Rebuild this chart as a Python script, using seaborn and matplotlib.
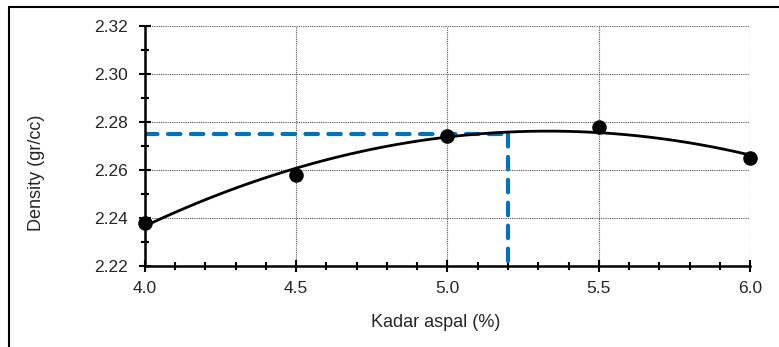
import matplotlib
matplotlib.use("Agg")
import matplotlib.pyplot as plt
import seaborn as sns
import pandas as pd
from matplotlib.lines import Line2D
from matplotlib.ticker import MultipleLocator

# data
kadar_aspal = [4.0, 4.5, 5.0, 5.5, 6.0]
density = [2.238, 2.258, 2.274, 2.278, 2.265]
optimum_kadar = 5.2
optimum_density = 2.275

df = pd.DataFrame({"kadar": kadar_aspal, "density": density})

sns.set_style("white")
plt.rcParams["font.family"] = ["Liberation Sans", "DejaVu Sans"]

fig = plt.figure(figsize=(7.79, 3.47), dpi=100)
ax = fig.add_axes([0.1861, 0.2334, 0.7767, 0.6916])

# quadratic trendline + points
sns.regplot(data=df, x="kadar", y="density", order=2, ci=None, ax=ax,
            scatter_kws=dict(s=110, color="black", alpha=1, zorder=8,
                             linewidths=0, clip_on=False),
            line_kws=dict(color="black", lw=2, zorder=4))

# optimum lines
x_lo, x_hi = 4.0, 6.0
y_lo, y_hi = 2.22, 2.32
ax.plot([x_lo, optimum_kadar], [optimum_density, optimum_density],
        color="#0070C0", lw=3, dashes=(3, 2.5), dash_capstyle="round", zorder=3)
ax.plot([optimum_kadar, optimum_kadar], [optimum_density, y_lo],
        color="#0070C0", lw=3, dashes=(3, 2.5), dash_capstyle="round", zorder=3)

ax.set_xlim(x_lo, x_hi)
ax.set_ylim(y_lo, y_hi)
ax.xaxis.set_major_locator(MultipleLocator(0.5))
ax.xaxis.set_minor_locator(MultipleLocator(0.1))
ax.yaxis.set_major_locator(MultipleLocator(0.02))
ax.yaxis.set_minor_locator(MultipleLocator(0.01))
ax.xaxis.set_major_formatter(plt.FormatStrFormatter("%.1f"))
ax.yaxis.set_major_formatter(plt.FormatStrFormatter("%.2f"))

ax.grid(True, which="major", color="#555555", ls=(0, (1, 1)), lw=0.8)
ax.set_axisbelow(True)
ax.tick_params(which="major", direction="inout", length=8, width=1.5,
               color="black", labelsize=12.5, bottom=True, left=True)
ax.tick_params(which="minor", direction="inout", length=6, width=1.5,
               color="black", bottom=True, left=True)
ax.tick_params(axis="x", pad=7)
ax.tick_params(axis="y", pad=8)

for side in ["top", "right"]:
    ax.spines[side].set_visible(False)
for side in ["left", "bottom"]:
    ax.spines[side].set_color("black")
    ax.spines[side].set_linewidth(1.8)
    ax.spines[side].set_zorder(6)

ax.set_xlabel("Kadar aspal (%)", fontsize=13)
ax.set_ylabel("Density (gr/cc)", fontsize=13)
ax.xaxis.set_label_coords(0.48, -0.2)
ax.yaxis.set_label_coords(-0.165, 0.39)

# chart frame (top and left edges visible)
fig.add_artist(Line2D([9 / 779, 1.0], [1 - 7 / 347, 1 - 7 / 347],
                      transform=fig.transFigure, color="black", lw=1.5))
fig.add_artist(Line2D([9 / 779, 9 / 779], [0.0, 1 - 7 / 347],
                      transform=fig.transFigure, color="black", lw=1.5))

fig.savefig("out.png", dpi=100)
